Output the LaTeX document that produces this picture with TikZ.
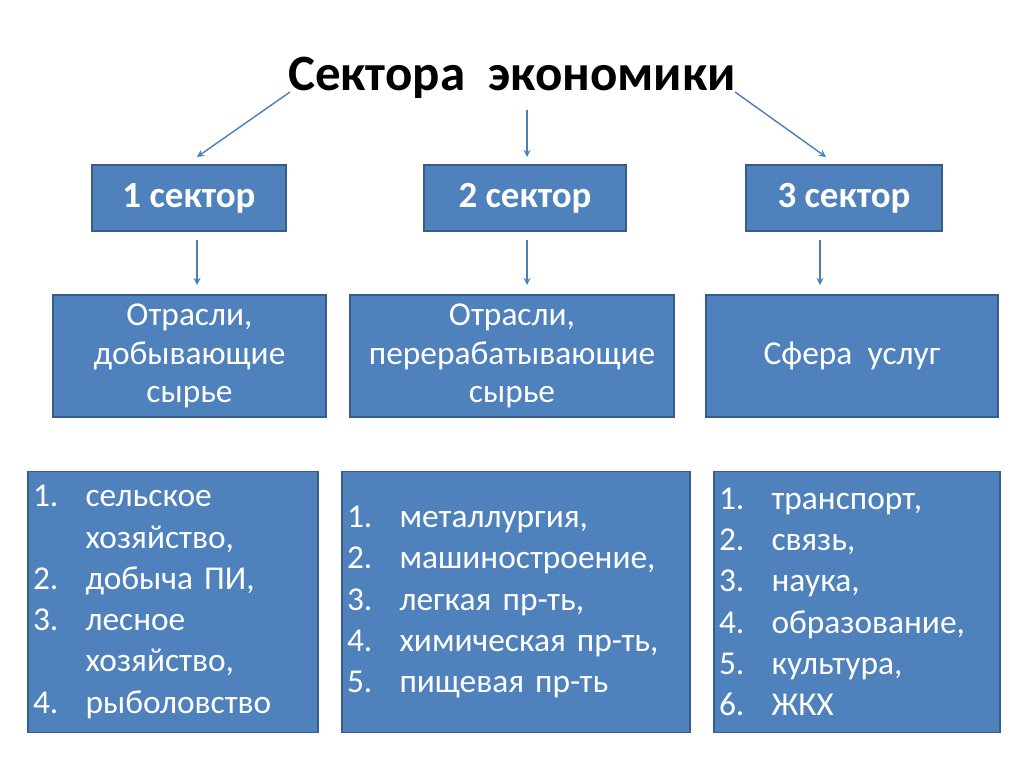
\documentclass[tikz,border=0pt]{standalone}
\usepackage{fontspec}
\setmainfont{Carlito}
\usetikzlibrary{positioning}
\definecolor{boxfill}{HTML}{4F81BD}
\definecolor{boxline}{HTML}{385D8A}
\definecolor{arrowcol}{HTML}{4A7EBB}
\tikzset{sectorbox/.style={
        draw=boxline,
        line width=1pt,
        fill=boxfill,
        text=white,
        font=\fontsize{21}{25}\selectfont\bfseries,
        inner sep=2pt,
        align=center
}}
\tikzset{branchbox/.style={
        draw=boxline,
        line width=1pt,
        fill=boxfill,
        text=white,
        font=\fontsize{19}{22}\selectfont,
        inner sep=2pt,
        align=center
}}
\tikzset{listbox/.style={
        draw=boxline,
        line width=1pt,
        fill=boxfill,
        text=white,
        font=\fontsize{19}{23.5}\selectfont,
        inner sep=2pt,
        align=left
}}
\tikzset{flowedge/.style={draw=arrowcol,line width=0.8pt,-stealth}}
\newcommand{\li}[2]{\makebox[1.05cm][l]{#1}#2}
\begin{document}
\begin{tikzpicture}[x=0.02cm,y=-0.02cm]
\useasboundingbox (0,0) rectangle (1024,767);
\node[font=\fontsize{29}{32}\selectfont\bfseries] (title) at (512,78) {Сектора\ \ экономики};

\node[sectorbox, minimum width=3.88cm, minimum height=1.32cm] (s1) at (189,198) {1 сектор};
\node[sectorbox, minimum width=4.04cm, minimum height=1.32cm] (s2) at (525,198) {2 сектор};
\node[sectorbox, minimum width=3.92cm, minimum height=1.32cm] (s3) at (844,198) {3 сектор};

\node[branchbox, minimum width=5.46cm, minimum height=2.44cm] (b1) at (189.5,356) {Отрасли,\\добывающие\\сырье};
\node[branchbox, minimum width=6.48cm, minimum height=2.44cm] (b2) at (512,356) {Отрасли,\\перерабатывающие\\сырье};
\node[branchbox, minimum width=5.84cm, minimum height=2.44cm] (b3) at (852,356) {Сфера\ \ услуг};

\node[listbox, minimum width=5.8cm, minimum height=5.22cm, text width=5.6cm] (l1) at (173,602) {\li{1.}{сельское}\\\li{}{хозяйство,}\\\li{2.}{добыча ПИ,}\\\li{3.}{лесное}\\\li{}{хозяйство,}\\\li{4.}{рыболовство}};
\node[listbox, minimum width=6.96cm, minimum height=5.22cm, text width=6.76cm] (l2) at (516,602) {\li{1.}{металлургия,}\\\li{2.}{машиностроение,}\\\li{3.}{легкая пр-ть,}\\\li{4.}{химическая пр-ть,}\\\li{5.}{пищевая пр-ть}};
\node[listbox, minimum width=5.72cm, minimum height=5.22cm, text width=5.52cm] (l3) at (857,602) {\li{1.}{транспорт,}\\\li{2.}{связь,}\\\li{3.}{наука,}\\\li{4.}{образование,}\\\li{5.}{культура,}\\\li{6.}{ЖКХ}};

\coordinate (t1) at (290,92);
\coordinate (t2) at (527,110);
\coordinate (t3) at (735,92);
\draw[flowedge] (t1) -- (197,157);
\draw[flowedge] (t2) -- (527,157);
\draw[flowedge] (t3) -- (826,157);
\draw[flowedge] (s1.south -| 197,0) ++(0,8) -- (197,285);
\draw[flowedge] (s2.south -| 527,0) ++(0,8) -- (527,285);
\draw[flowedge] (s3.south -| 820,0) ++(0,8) -- (820,285);
\end{tikzpicture}
\end{document}
